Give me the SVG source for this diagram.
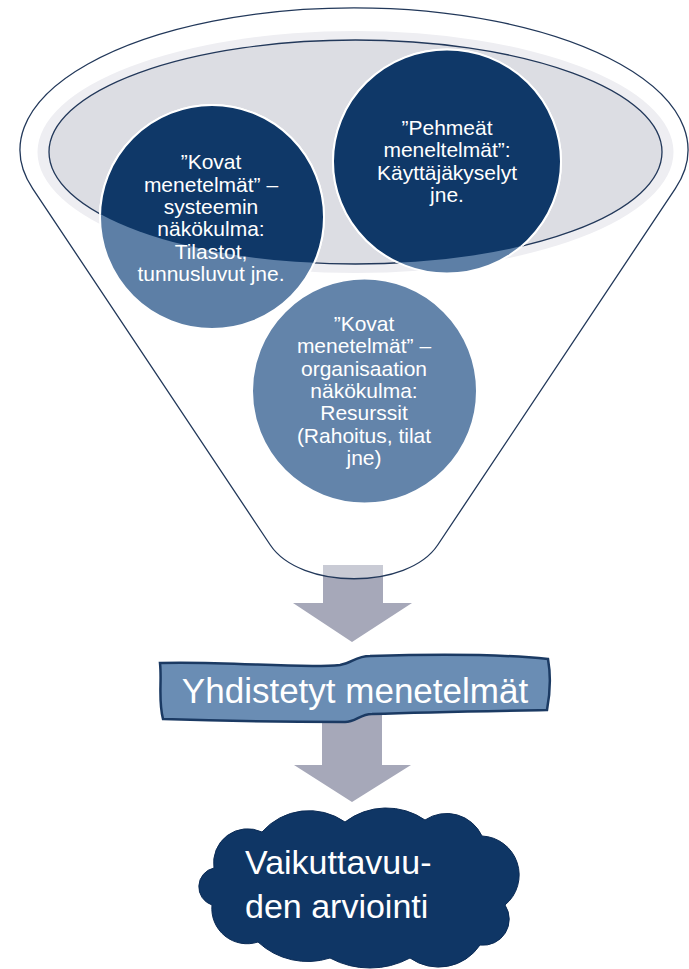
<svg xmlns="http://www.w3.org/2000/svg" width="689" height="969" viewBox="0 0 689 969">
<style>
.t{font-family:"Liberation Sans",Arial,sans-serif;fill:#fff;text-anchor:middle}
.c21{font-size:21px}
.arrow{fill:#a6a8b9}
</style>
<defs>
<clipPath id="inner"><ellipse cx="355.5" cy="152" rx="306.5" ry="112"/></clipPath>
</defs>
<rect width="689" height="969" fill="#fff"/>
<g id="connectors">
<polygon class="arrow" points="323,565 383,565 383,603 412,603 352,642 293,603 323,603"/>
<polygon class="arrow" points="322,715 382,715 382,765 411,765 352,802 294,765 322,765"/>
</g>
<g id="funnel">
<path d="M32.7,188.6 A334,142 0 1 1 675.3,188.6 L437.7,545 C407.7,590 300.3,590 270.3,545 Z" fill="#fff" fill-opacity="0.4" stroke="#22385a" stroke-width="1.3"/>
<ellipse cx="355.5" cy="152" rx="318" ry="121" fill="#eeeef2"/>
<ellipse cx="355.5" cy="152" rx="306.5" ry="112" fill="#dcdde3" stroke="#22385a" stroke-width="1.3"/>
</g>
<g id="circleA">
<circle cx="212" cy="217" r="112" fill="#5d7fa6" stroke="#fff" stroke-width="2"/>
<circle cx="212" cy="217" r="112" fill="#0f3868" stroke="#fff" stroke-width="2" clip-path="url(#inner)"/>
<text class="t c21"><tspan x="211" y="169.3">”Kovat</tspan><tspan x="211" y="191.7">menetelmät” –</tspan><tspan x="211" y="214">systeemin</tspan><tspan x="211" y="236.4">näkökulma:</tspan><tspan x="211" y="258.8">Tilastot,</tspan><tspan x="211" y="281.2">tunnusluvut jne.</tspan></text>
</g>
<g id="circleB">
<ellipse cx="447" cy="161.5" rx="114" ry="112" fill="#5d7fa6" stroke="#fff" stroke-width="2"/>
<ellipse cx="447" cy="161.5" rx="114" ry="112" fill="#0f3868" stroke="#fff" stroke-width="2" clip-path="url(#inner)"/>
<text class="t c21"><tspan x="447" y="135">”Pehmeät</tspan><tspan x="447" y="157.4">meneltelmät”:</tspan><tspan x="447" y="179.8">Käyttäjäkyselyt</tspan><tspan x="447" y="202.2">jne.</tspan></text>
</g>
<g id="circleC">
<circle cx="364.5" cy="391" r="112.5" fill="#6384aa" stroke="#fff" stroke-width="2"/>
<text class="t c21"><tspan x="364" y="330.7">”Kovat</tspan><tspan x="364" y="353.1">menetelmät” –</tspan><tspan x="364" y="375.5">organisaation</tspan><tspan x="364" y="397.9">näkökulma:</tspan><tspan x="364" y="420.3">Resurssit</tspan><tspan x="364" y="442.7">(Rahoitus, tilat</tspan><tspan x="364" y="465.1">jne)</tspan></text>
</g>
<g id="banner">
<path d="M160,663 C230,661 300,669 340,665 C352,663 356,656 370,656 C430,654 500,654 548,659 C551,676 550,694 547,710 C490,711 430,712 372,714 C360,714 356,722 345,722 C290,722 220,721 163,719 C158,700 162,682 160,663 Z" fill="#6a8db4" stroke="#1b3a63" stroke-width="2.5"/>
<text class="t" x="355" y="703" font-size="35">Yhdistetyt menetelmät</text>
</g>
<g id="cloud">
<path d="M214,868 A34,34 0 0 1 262,832 A62.6,62.6 0 0 1 345,822 A68,68 0 0 1 425,820 A39,39 0 0 1 482,836 A39,39 0 0 1 505,905 A26,26 0 0 1 480,945 A49.7,49.7 0 0 1 410,958 A85,85 0 0 1 330,958 A73,73 0 0 1 258,942 A35.2,35.2 0 0 1 212,905 A19.2,19.2 0 0 1 214,868 Z" fill="#0f3665" stroke="#0b2b55" stroke-width="1"/>
<text class="t" font-size="34" style="text-anchor:start"><tspan x="245" y="874">Vaikuttavuu-</tspan><tspan x="245" y="918">den arviointi</tspan></text>
</g>
</svg>
